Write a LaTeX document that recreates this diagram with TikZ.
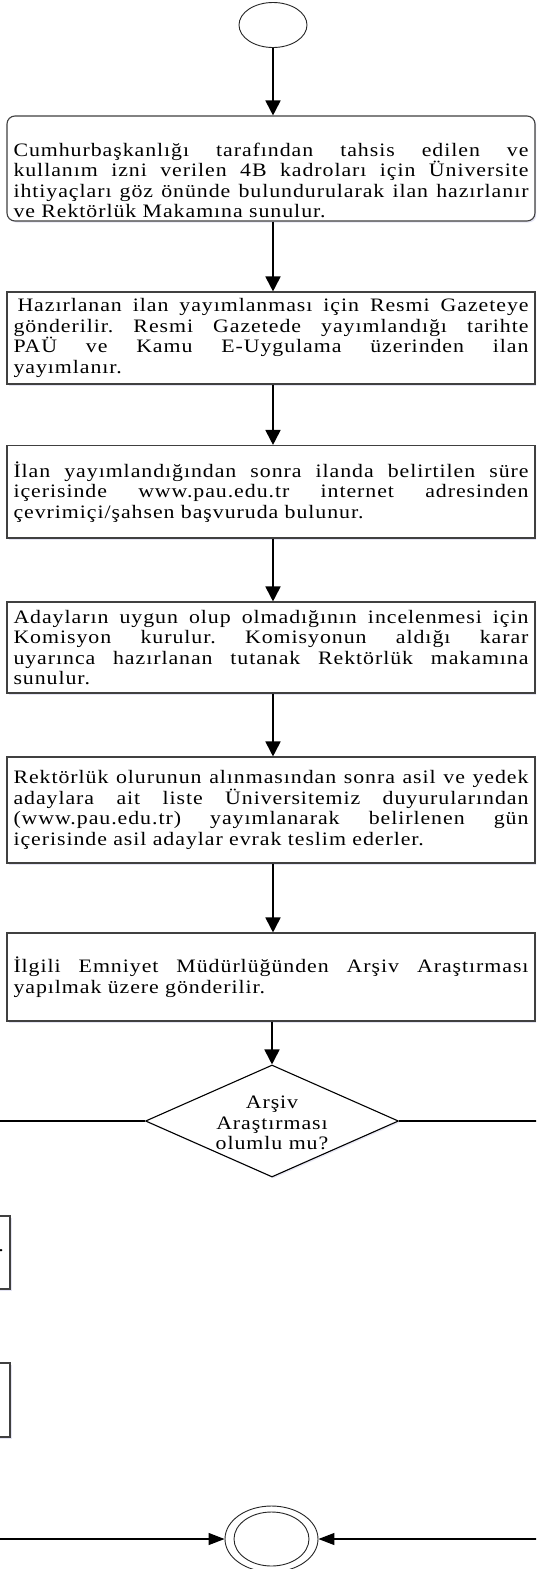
\documentclass[tikz,border=0pt]{standalone}
\usepackage{fontspec}
\setmainfont{Liberation Serif}
\newfontfamily\boxfont[FakeStretch=1.15,LetterSpace=5]{Liberation Serif}
\usetikzlibrary{shapes.geometric,arrows.meta,shadows}

% one justified line of a process box (spaces stretched to the full width)
\newcommand\jline[1]{\makebox[515pt][s]{\spaceskip=0.3em plus 1fil\xspaceskip=0.3em plus 1fil\relax#1}\\}

\begin{document}
\begin{tikzpicture}[x=1pt,y=-1pt,
  boxtext/.style={font=\boxfont\fontsize{19}{20.5}\selectfont},
  stepbox/.style={boxtext, draw=black!75, line width=1.1pt, fill=white,
    minimum width=528pt, inner sep=0pt, text width=515pt, align=left,
    drop shadow={shadow xshift=1.5pt, shadow yshift=-1.5pt, opacity=0.15, fill=blue!40!gray}},
  terminal/.style={ellipse, draw=black!85, line width=0.9pt, fill=white, inner sep=0pt},
  decision/.style={diamond, draw=black, line width=1.1pt, fill=white, inner sep=0pt,
    drop shadow={shadow xshift=1.5pt, shadow yshift=-1.5pt, opacity=0.12, fill=blue!40!gray}},
  flow/.style={line width=1.8pt, -{Triangle[length=15pt,width=15pt]}},
  flowh/.style={line width=1.3pt, -{Triangle[length=16pt,width=12pt]}},
  branch/.style={line width=1.3pt}]

\useasboundingbox (0,0) rectangle (536,1569);
\clip (0,0) rectangle (536,1569);
\fill[white] (0,0) rectangle (536,1569);

% start terminal
\node[terminal, minimum width=68pt, minimum height=45pt] (start) at (273,25) {};

% process steps
\node[stepbox, rounded corners=8pt, minimum height=105pt] (b1) at (271,168.5) {%
\jline{\rule{0pt}{37pt}Cumhurbaşkanlığı tarafından tahsis edilen ve}%
\jline{kullanım izni verilen 4B kadroları için Üniversite}%
\jline{ihtiyaçları göz önünde bulundurularak ilan hazırlanır}%
ve Rektörlük Makamına sunulur.};

\node[stepbox, minimum height=92pt] (b2) at (271,338) {%
\jline{\hspace*{4pt}Hazırlanan ilan yayımlanması için Resmi Gazeteye}%
\jline{gönderilir. Resmi Gazetede yayımlandığı tarihte}%
\jline{PAÜ ve Kamu E-Uygulama üzerinden ilan}%
yayımlanır.};

\node[stepbox, minimum height=92.5pt] (b3) at (271,491.75) {%
\jline{İlan yayımlandığından sonra ilanda belirtilen süre}%
\jline{içerisinde www.pau.edu.tr internet adresinden}%
çevrimiçi/şahsen başvuruda bulunur.};

\node[stepbox, minimum height=91pt] (b4) at (271,647.5) {%
\jline{Adayların uygun olup olmadığının incelenmesi için}%
\jline{Komisyon kurulur. Komisyonun aldığı karar}%
\jline{uyarınca hazırlanan tutanak Rektörlük makamına}%
sunulur.};

\node[stepbox, minimum height=106pt] (b5) at (271,810) {%
\jline{Rektörlük olurunun alınmasından sonra asil ve yedek}%
\jline{adaylara ait liste Üniversitemiz duyurularından}%
\jline{(www.pau.edu.tr) yayımlanarak belirlenen gün}%
içerisinde asil adaylar evrak teslim ederler.};

\node[stepbox, minimum height=88pt] (b6) at (271,977) {%
\jline{İlgili Emniyet Müdürlüğünden Arşiv Araştırması}%
yapılmak üzere gönderilir.};

% decision
\node[decision, minimum width=253pt, minimum height=112pt] (check) at (272,1121) {};
\node[boxtext, align=center, inner sep=0pt] (checktext) at (272,1123) {Arşiv\\Araştırması\\olumlu mu?};

% branch boxes at the left edge
\node[stepbox, text width=60pt, minimum width=73pt, minimum height=73pt] (leftA) at (-26.5,1252.5) {};
\node[boxtext, anchor=base east, inner sep=0pt] (leftAtext) at (4,1251) {.};
\node[stepbox, text width=60pt, minimum width=73pt, minimum height=74pt] (leftB) at (-26.5,1400) {};

% end terminal
\node[terminal, minimum width=93pt, minimum height=66pt] (end) at (271.5,1539) {};
\node[terminal, minimum width=75pt, minimum height=54pt] (endin) at (271.5,1539) {};

% free ends at the picture edges
\coordinate (brL) at (-5,1121);
\coordinate (brR) at (541,1121);
\coordinate (inL) at (-5,1539);
\coordinate (inR) at (541,1539);

% connectors
\draw[flow] (start.south) -- (start.south |- b1.north);
\draw[flow] (b1.south -| start.south) -- (start.south |- b2.north);
\draw[flow] (b2.south -| start.south) -- (start.south |- b3.north);
\draw[flow] (b3.south -| start.south) -- (start.south |- b4.north);
\draw[flow] (b4.south -| start.south) -- (start.south |- b5.north);
\draw[flow] (b5.south -| start.south) -- (start.south |- b6.north);
\draw[flow] (b6.south -| check.north) -- (check.north);
\draw[branch] (check.west) -- (brL);
\draw[branch] (check.east) -- (brR);
\draw[flowh] (inL) -- (end.west);
\draw[flowh] (inR) -- (end.east);
\end{tikzpicture}
\end{document}
